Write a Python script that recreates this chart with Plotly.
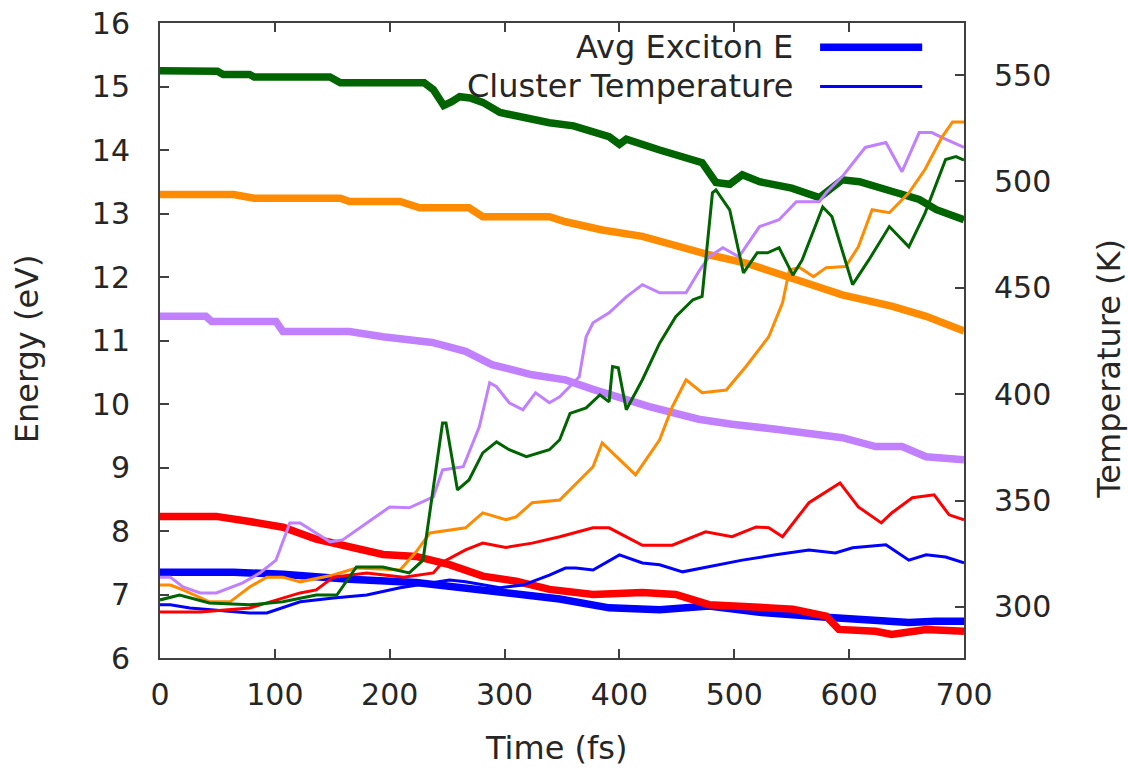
import plotly.graph_objects as go

# ---- Average exciton energy (eV), thick lines, left axis ----
t_e_green = [0, 50, 55, 78, 82, 148, 157, 230, 238, 247, 254, 261, 270, 281, 296, 320, 339, 360,
             391, 400, 406, 435, 472, 484, 496, 507, 522, 550, 574, 594, 609, 637, 661, 676, 700]
e_green = [15.25, 15.24, 15.19, 15.19, 15.15, 15.15, 15.06, 15.06, 14.95, 14.70, 14.76, 14.84, 14.82,
           14.75, 14.59, 14.50, 14.43, 14.38, 14.21, 14.09, 14.17, 14.0, 13.8, 13.49, 13.46, 13.61,
           13.5, 13.4, 13.25, 13.53, 13.5, 13.35, 13.22, 13.06, 12.9]

t_e_orange = [0, 64, 82, 157, 165, 209, 226, 269, 281, 339, 353, 385, 420, 449, 478, 510, 536, 565,
              594, 637, 667, 700]
e_orange = [13.30, 13.30, 13.24, 13.24, 13.19, 13.19, 13.09, 13.09, 12.95, 12.95, 12.87, 12.74, 12.64,
            12.48, 12.35, 12.22, 12.07, 11.91, 11.72, 11.54, 11.38, 11.15]

t_e_purple = [0, 40, 45, 101, 107, 165, 194, 237, 266, 289, 324, 353, 377, 406, 426, 469, 498, 538,
              594, 623, 646, 667, 700]
e_purple = [11.38, 11.38, 11.30, 11.30, 11.14, 11.14, 11.06, 10.97, 10.83, 10.62, 10.46, 10.38, 10.23,
            10.07, 9.96, 9.76, 9.68, 9.60, 9.47, 9.33, 9.33, 9.17, 9.12]

t_e_red = [0, 49, 78, 107, 136, 165, 194, 223, 252, 281, 310, 339, 377, 420, 449, 478, 522, 551, 580,
           591, 623, 637, 667, 700]
e_red = [8.23, 8.23, 8.15, 8.06, 7.87, 7.74, 7.63, 7.60, 7.47, 7.29, 7.21, 7.08, 7.0, 7.03, 7.0, 6.84,
         6.80, 6.77, 6.66, 6.45, 6.42, 6.37, 6.45, 6.42]

t_e_blue = [0, 64, 107, 165, 223, 281, 310, 348, 391, 435, 478, 522, 580, 623, 652, 675, 700]
e_blue = [7.35, 7.35, 7.32, 7.24, 7.19, 7.08, 7.0, 6.93, 6.79, 6.76, 6.82, 6.72, 6.64, 6.58, 6.56,
          6.58, 6.58]

# ---- Cluster temperature (K), thin lines, right axis ----
t_k_green = [0, 17, 43, 78, 107, 136, 154, 171, 194, 217, 229, 238, 246, 249, 259, 269, 281, 293, 304,
             319, 339, 348, 357, 371, 383, 391, 394, 399, 406, 420, 435, 449, 464, 472, 481, 484, 496,
             508, 520, 529, 539, 551, 559, 577, 585, 603, 617, 635, 652, 666, 684, 693, 700]
k_green = [303.3, 305.6, 301.9, 301, 302.4, 305.6, 305.6, 318.8, 318.8, 316, 322, 356.5, 386.5, 386.5,
           355, 359.7, 372.4, 377.6, 373.9, 370.6, 373.9, 378.6, 391, 393.6, 399.7, 396.4, 413, 412.4,
           392.7, 406.8, 424, 436.4, 444.4, 446, 494.7, 496, 486.7, 457, 466.5, 466.5, 468.9, 456, 463,
           488, 483.5, 451.5, 463, 478.8, 469.3, 485, 510.3, 511.7, 510]

t_k_orange = [0, 9, 20, 43, 61, 78, 93, 107, 122, 151, 171, 209, 223, 235, 266, 281, 301, 310, 324, 348,
              377, 385, 414, 435, 446, 458, 472, 493, 510, 530, 542, 548, 557, 569, 580, 597, 608, 620,
              635, 652, 666, 681, 690, 700]
k_orange = [310.3, 310.3, 308, 302.4, 302.4, 309.4, 314, 314, 311.8, 315, 318.3, 317.4, 325.9, 334.8,
            337.2, 344.2, 341, 342.3, 349, 350.3, 365.9, 377.1, 362.1, 378.6, 394, 406.8, 400.7, 402,
            412.9, 427, 443, 458.5, 459.5, 455.2, 459.5, 460, 469.3, 486.7, 485.3, 494.7, 505.6, 521,
            528, 528]

t_k_purple = [0, 9, 20, 35, 49, 72, 87, 101, 113, 122, 148, 159, 180, 200, 217, 238, 246, 264, 278, 287,
              293, 304, 316, 327, 339, 348, 365, 371, 377, 391, 406, 420, 435, 458, 470, 478, 490, 504,
              522, 539, 554, 574, 580, 594, 614, 632, 646, 661, 672, 681, 700]
k_purple = [314, 314, 309.4, 306.6, 306.6, 311.3, 316, 322, 339.5, 339.5, 330.6, 331.5, 339.5, 347,
            346.6, 351.7, 364.4, 365.9, 384.7, 405.4, 403.5, 396, 392.7, 400.7, 396, 398.8, 408.2, 427,
            433.6, 438.3, 445.8, 451.5, 447.7, 447.7, 458.5, 464.6, 468.9, 464.6, 478.8, 482, 490.5,
            490.5, 494.7, 502.3, 516, 518.3, 504.6, 523, 523, 520.6, 516]

t_k_red = [0, 35, 78, 107, 122, 136, 151, 180, 212, 238, 246, 266, 281, 301, 324, 348, 377, 391, 420,
           446, 475, 498, 519, 530, 542, 565, 580, 592, 608, 628, 637, 655, 674, 687, 700]
k_red = [297.6, 297.6, 299.5, 304.2, 306.6, 308, 314, 316, 314, 316, 321, 326.8, 330, 328, 330, 333,
         337.2, 337.2, 329, 329, 335.3, 333, 337.6, 337.2, 333, 349, 354, 358.3, 347, 339.5, 344.2,
         351.3, 352.7, 343.3, 341]

t_k_blue = [0, 9, 26, 78, 93, 122, 151, 180, 209, 223, 252, 266, 296, 316, 339, 353, 362, 377, 400, 420,
            435, 455, 478, 507, 536, 565, 588, 603, 632, 652, 667, 684, 700]
k_blue = [301, 301, 299.5, 297.2, 297.2, 302.4, 304.2, 305.6, 309, 310.3, 312.7, 311.8, 309, 310.3, 315,
          318.3, 318.3, 317.4, 324.5, 320.7, 319.8, 316.5, 318.8, 322, 324.5, 326.8, 325.4, 327.8,
          329.2, 322, 324.5, 323.5, 320.7]

# drawing order: one energy/temperature pair per colour
series = [
    ("#0000ff", t_e_blue, e_blue, t_k_blue, k_blue),
    ("#c080ff", t_e_purple, e_purple, t_k_purple, k_purple),
    ("#ff8c00", t_e_orange, e_orange, t_k_orange, k_orange),
    ("#ff0000", t_e_red, e_red, t_k_red, k_red),
    ("#006400", t_e_green, e_green, t_k_green, k_green),
]

FONT = "DejaVu Sans"
TXT = "#262626"
FRAME = "#404040"
FS = 30

fig = go.Figure()
for color, te, ev, tk, kv in series:
    fig.add_trace(go.Scatter(x=te, y=ev, mode="lines", yaxis="y",
                             line=dict(color=color, width=7.5), showlegend=False))
    fig.add_trace(go.Scatter(x=tk, y=kv, mode="lines", yaxis="y2",
                             line=dict(color=color, width=3), showlegend=False))

axis_common = dict(showgrid=False, zeroline=False, showline=True, linecolor=FRAME, linewidth=2,
                   ticks="inside", ticklen=9, tickwidth=2, tickcolor=FRAME, automargin=False,
                   tickfont=dict(family=FONT, size=FS, color=TXT))

fig.update_layout(
    width=1128, height=769,
    margin=dict(l=160, r=164, t=23, b=111),
    paper_bgcolor="white", plot_bgcolor="white",
    showlegend=False,
    xaxis=dict(range=[0, 700], tickmode="array", tickvals=list(range(0, 701, 100)),
               mirror="ticks", ticklabelstandoff=9, **axis_common),
    yaxis=dict(range=[6, 16], tickmode="array", tickvals=list(range(6, 17)),
               ticklabelstandoff=22, **axis_common),
    yaxis2=dict(range=[276, 574.5], overlaying="y", side="right", tickmode="array",
                tickvals=[300, 350, 400, 450, 500, 550], ticklabelstandoff=22, **axis_common),
)

# axis titles
title_font = dict(family=FONT, size=32, color=TXT)
fig.add_annotation(text="Time (fs)", xref="paper", yref="paper", x=0.493, y=-0.142,
                   xanchor="center", yanchor="middle", showarrow=False, font=title_font)
fig.add_annotation(text="Energy (eV)", xref="paper", yref="paper", x=-0.166, y=0.487,
                   xanchor="center", yanchor="middle", textangle=-90, showarrow=False,
                   font=title_font)
fig.add_annotation(text="Temperature (K)", xref="paper", yref="paper", x=1.18, y=0.455,
                   xanchor="center", yanchor="middle", textangle=-90, showarrow=False,
                   font=title_font)

# key: label on the left, line sample on the right
key = [("Avg Exciton E", 7.5, 0.962), ("Cluster Temperature", 3, 0.900)]
for label, width, ky in key:
    fig.add_annotation(text=label, xref="paper", yref="paper", x=0.790, y=ky,
                       xanchor="right", yanchor="middle", showarrow=False, font=title_font)
    fig.add_shape(type="line", xref="paper", yref="paper", x0=0.821, x1=0.948, y0=ky, y1=ky,
                  line=dict(color="#0000ff", width=width))

fig.write_html("out.html")
